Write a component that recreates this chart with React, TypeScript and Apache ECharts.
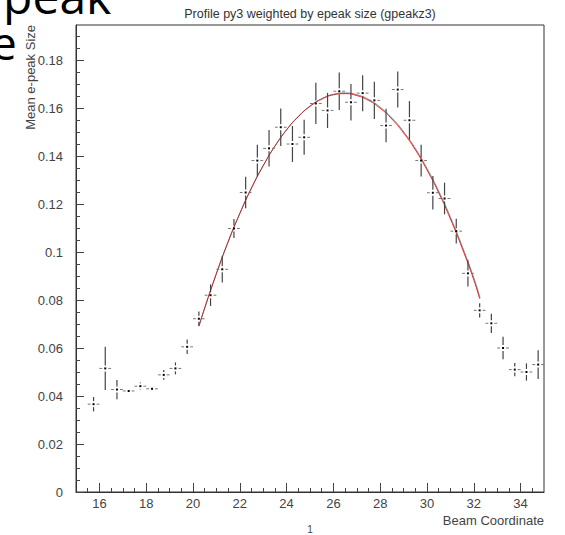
import React, { useEffect, useRef } from "react";
import * as echarts from "echarts";

// Profile bins (bin centres), mean values and errors
const binCenters = [
  15.75, 16.25, 16.75, 17.25, 17.75, 18.25, 18.75, 19.25, 19.75, 20.25,
  20.75, 21.25, 21.75, 22.25, 22.75, 23.25, 23.75, 24.25, 24.75, 25.25,
  25.75, 26.25, 26.75, 27.25, 27.75, 28.25, 28.75, 29.25, 29.75, 30.25,
  30.75, 31.25, 31.75, 32.25, 32.75, 33.25, 33.75, 34.25, 34.75,
];
const meanValues = [
  0.0366, 0.0515, 0.0427, 0.0421, 0.0441, 0.043, 0.0488, 0.0515, 0.0605, 0.0722,
  0.082, 0.0928, 0.1098, 0.1248, 0.1381, 0.1432, 0.152, 0.145, 0.1478, 0.1619,
  0.159, 0.167, 0.1624, 0.1662, 0.1632, 0.1527, 0.1677, 0.1549, 0.1381, 0.1247,
  0.1223, 0.1087, 0.0911, 0.0757, 0.0703, 0.06, 0.051, 0.05, 0.0531,
];
const errorValues = [
  0.003, 0.009, 0.004, 0.001, 0.0015, 0.0008, 0.002, 0.0025, 0.003, 0.003,
  0.0045, 0.0055, 0.004, 0.0066, 0.0066, 0.0076, 0.0078, 0.0075, 0.0073, 0.0086,
  0.0073, 0.0078, 0.0076, 0.0075, 0.0078, 0.007, 0.0075, 0.008, 0.0066, 0.007,
  0.0066, 0.0052, 0.0055, 0.003, 0.004, 0.0047, 0.0028, 0.0036, 0.006,
];
const binHalfWidth = 0.25;

// Fit curve
const fitX = [
  20.25, 20.5, 21, 21.5, 22, 22.5, 23, 23.5, 24, 24.5, 25, 25.5, 26, 26.5,
  27, 27.5, 28, 28.5, 29, 29.5, 30, 30.5, 31, 31.5, 32, 32.25,
];
const fitY = [
  0.0691, 0.0768, 0.0911, 0.1043, 0.1161, 0.1267, 0.136, 0.1441, 0.1509, 0.1564,
  0.1607, 0.1637, 0.1655, 0.166, 0.1652, 0.1632, 0.1599, 0.1554, 0.1496, 0.1426,
  0.1342, 0.1247, 0.1138, 0.1017, 0.0884, 0.0805,
];

// Axis ticks
const xMajorTicks = [16, 18, 20, 22, 24, 26, 28, 30, 32, 34];
const xMinorTicks = [
  15.5, 16.5, 17, 17.5, 18.5, 19, 19.5, 20.5, 21, 21.5, 22.5, 23, 23.5, 24.5, 25,
  25.5, 26.5, 27, 27.5, 28.5, 29, 29.5, 30.5, 31, 31.5, 32.5, 33, 33.5, 34.5,
];
const yMajorTicks = [0, 0.02, 0.04, 0.06, 0.08, 0.1, 0.12, 0.14, 0.16, 0.18];
const yMinorTicks = [
  0.005, 0.01, 0.015, 0.025, 0.03, 0.035, 0.045, 0.05, 0.055, 0.065, 0.07, 0.075,
  0.085, 0.09, 0.095, 0.105, 0.11, 0.115, 0.125, 0.13, 0.135, 0.145, 0.15, 0.155,
  0.165, 0.17, 0.175, 0.185, 0.19,
];
const xRange = [15, 35];
const yRange = [0, 0.1946];

const titleText = "Profile py3 weighted by epeak size (gpeakz3)";
const xTitle = "Beam Coordinate";
const yTitle = "Mean e-peak Size";
const padLabel = "1";
const slideLine1 = "r peak";
const slideLine2 = "e";

const FONT = "Liberation Sans, Arial, sans-serif";
const SLIDE_FONT = "Open Sans, Noto Sans, sans-serif";
const INK = "#444";

export default function App() {
  const ref = useRef<HTMLDivElement>(null);
  useEffect(() => {
    const chart = echarts.init(ref.current!, null, { renderer: "svg" });
    const fmt = (v: number) => String(+Number(v).toFixed(4));
    chart.setOption({
      animation: false,
      backgroundColor: "#fff",
      grid: {
        left: 76,
        top: 25,
        right: 21,
        bottom: 43,
        show: true,
        borderColor: "#333",
        borderWidth: 1,
        backgroundColor: "transparent",
      },
      xAxis: [
        {
          type: "value",
          min: xRange[0],
          max: xRange[1],
          position: "bottom",
          splitLine: { show: false },
          axisLine: { show: true, lineStyle: { color: "#333", width: 1 } },
          axisTick: {
            show: true,
            inside: true,
            length: 9,
            customValues: xMajorTicks,
            lineStyle: { color: INK, width: 1 },
          },
          axisLabel: {
            customValues: xMajorTicks,
            formatter: fmt,
            color: INK,
            fontFamily: FONT,
            fontSize: 13,
            margin: 5,
          },
        },
        {
          type: "value",
          min: xRange[0],
          max: xRange[1],
          position: "bottom",
          splitLine: { show: false },
          axisLine: { show: false },
          axisTick: {
            show: true,
            inside: true,
            length: 4,
            customValues: xMinorTicks,
            lineStyle: { color: INK, width: 1 },
          },
          axisLabel: { show: false },
        },
      ],
      yAxis: [
        {
          type: "value",
          min: yRange[0],
          max: yRange[1],
          position: "left",
          splitLine: { show: false },
          axisLine: { show: true, lineStyle: { color: "#333", width: 1 } },
          axisTick: {
            show: true,
            inside: true,
            length: 8,
            customValues: yMajorTicks,
            lineStyle: { color: INK, width: 1 },
          },
          axisLabel: {
            customValues: yMajorTicks,
            formatter: fmt,
            color: INK,
            fontFamily: FONT,
            fontSize: 13,
            margin: 13,
          },
        },
        {
          type: "value",
          min: yRange[0],
          max: yRange[1],
          position: "left",
          splitLine: { show: false },
          axisLine: { show: false },
          axisTick: {
            show: true,
            inside: true,
            length: 4,
            customValues: yMinorTicks,
            lineStyle: { color: INK, width: 1 },
          },
          axisLabel: { show: false },
        },
      ],
      series: [
        {
          type: "line",
          xAxisIndex: 0,
          yAxisIndex: 0,
          data: fitX.map((x, i) => [x, fitY[i]]),
          smooth: true,
          showSymbol: false,
          lineStyle: { color: "#ff2020", width: 1 },
          z: 3,
        },
        {
          type: "line",
          xAxisIndex: 0,
          yAxisIndex: 0,
          data: fitX.map((x, i) => [x + 0.02, fitY[i] + 0.0003]),
          smooth: true,
          showSymbol: false,
          lineStyle: { color: "#444", width: 0.8, opacity: 0.75 },
          z: 4,
        },
        {
          type: "custom",
          xAxisIndex: 0,
          yAxisIndex: 0,
          z: 5,
          data: binCenters.map((x, i) => [x, meanValues[i], errorValues[i]]),
          encode: { x: 0, y: 1 },
          renderItem: (params: any, api: any) => {
            const x = api.value(0);
            const y = api.value(1);
            const e = api.value(2);
            const c = api.coord([x, y]);
            const l = api.coord([x - binHalfWidth, y])[0];
            const r = api.coord([x + binHalfWidth, y])[0];
            const t = api.coord([x, y + e])[1];
            const b = api.coord([x, y - e])[1];
            const g = 3;
            const cx = c[0];
            const cy = c[1];
            const sh = { stroke: "#777", lineWidth: 1 };
            const sv = { stroke: "#444", lineWidth: 1.2 };
            const children: any[] = [
              { type: "line", shape: { x1: l, y1: cy, x2: cx - g, y2: cy }, style: sh },
              { type: "line", shape: { x1: cx + g, y1: cy, x2: r, y2: cy }, style: sh },
            ];
            if (t < cy - g) {
              children.push({ type: "line", shape: { x1: cx, y1: t, x2: cx, y2: cy - g }, style: sv });
            }
            if (b > cy + g) {
              children.push({ type: "line", shape: { x1: cx, y1: cy + g, x2: cx, y2: b }, style: sv });
            }
            children.push({
              type: "rect",
              shape: { x: cx - 1, y: cy - 1, width: 2, height: 2 },
              style: { fill: "#000" },
            });
            return { type: "group", children };
          },
        },
      ],
      graphic: [
        {
          type: "text",
          x: 310,
          y: 14,
          style: {
            text: titleText,
            fontFamily: FONT,
            fontSize: 12.5,
            fill: "#333",
            align: "center",
            verticalAlign: "middle",
          },
        },
        {
          type: "text",
          x: 544,
          y: 520,
          style: {
            text: xTitle,
            fontFamily: FONT,
            fontSize: 13,
            fill: INK,
            align: "right",
            verticalAlign: "middle",
          },
        },
        {
          type: "text",
          x: 30,
          y: 25,
          rotation: Math.PI / 2,
          style: {
            text: yTitle,
            fontFamily: FONT,
            fontSize: 13,
            fill: INK,
            align: "right",
            verticalAlign: "middle",
          },
        },
        {
          type: "text",
          x: 310,
          y: 529,
          style: {
            text: padLabel,
            fontFamily: FONT,
            fontSize: 10,
            fill: INK,
            align: "center",
            verticalAlign: "middle",
          },
        },
        {
          type: "text",
          x: -29,
          y: -5,
          z: 10,
          style: {
            text: slideLine1,
            fontFamily: SLIDE_FONT,
            fontSize: 48,
            fill: "#000",
            align: "left",
            verticalAlign: "middle",
          },
        },
        {
          type: "text",
          x: -9,
          y: 42,
          z: 10,
          style: {
            text: slideLine2,
            fontFamily: SLIDE_FONT,
            fontSize: 46,
            fill: "#000",
            align: "left",
            verticalAlign: "middle",
          },
        },
      ],
    });
    return () => chart.dispose();
  }, []);
  return (
    <div
      ref={ref}
      style={{ position: "fixed", left: 0, top: 0, width: 565, height: 535, background: "#fff" }}
    />
  );
}
